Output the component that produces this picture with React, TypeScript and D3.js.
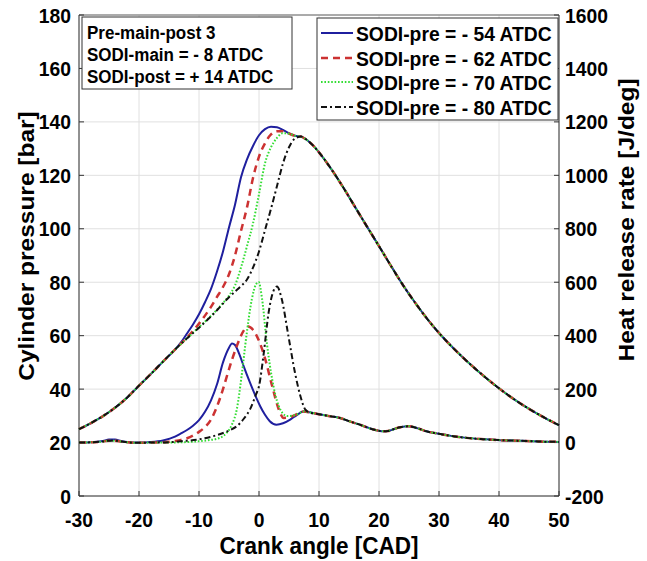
import React from "react";
import * as d3 from "d3";

// ---------- data ----------
const xTicks = [-30, -20, -10, 0, 10, 20, 30, 40, 50];
const leftTicks = [0, 20, 40, 60, 80, 100, 120, 140, 160, 180];
const rightTicks = [-200, 0, 200, 400, 600, 800, 1000, 1200, 1400, 1600];

const seriesNames = [
  "SODI-pre = - 54 ATDC",
  "SODI-pre = - 62 ATDC",
  "SODI-pre = - 70 ATDC",
  "SODI-pre = - 80 ATDC",
];
const annotationLines = [
  "Pre-main-post 3",
  "SODI-main = - 8 ATDC",
  "SODI-post = + 14 ATDC",
];

// shared motored compression pressure (bar)
const motorCad = [-30, -28, -26, -24, -22, -20, -18, -16, -14];
const motorP = [25, 27.3, 29.9, 33, 36.8, 41.3, 45.7, 50.3, 54.8];

// shared expansion pressure (bar)
const expCad = [7, 8, 9, 10, 12, 14, 16, 18, 20, 22, 24, 26, 28, 30, 32, 34, 36, 38, 40, 42, 44, 46, 48, 50];
const expP = [134.5, 133.2, 131.2, 128.6, 122.5, 115.6, 108.2, 100.8, 93.5, 86.1, 78.9, 72.4, 66.4, 61, 56.2, 51.8, 47.7, 43.9, 40.3, 37, 34, 31.3, 28.8, 26.5];

// combustion-phase pressure per series
const p54Cad = [-13, -12, -11, -10, -9, -8, -7, -6, -5, -4, -3, -2, -1, 0, 1, 2, 3, 4, 5, 6];
const p54 = [57.5, 60.8, 64.2, 68, 72.5, 77.5, 84, 91.5, 100.5, 109, 119.3, 126, 131, 135, 137.3, 138.2, 138, 137, 135.8, 134.8];
const p62Cad = [-12, -11, -10, -9, -8, -7, -6, -5, -4, -3, -2, -1, 0, 1, 2, 3, 4, 5, 6];
const p62 = [59.3, 61.8, 64.5, 67.5, 70.8, 74.5, 78.2, 83, 90, 99.2, 108, 119, 127, 132, 135.3, 136.5, 136.5, 135.6, 134.8];
const p70Cad = [-12, -10, -8, -7, -6, -5, -4, -3, -2, -1, 0, 1, 2, 3, 4, 5, 6];
const p70 = [59, 63.2, 67.4, 69.7, 72.2, 75, 78.8, 85.5, 93.5, 102, 113, 124.5, 130.5, 134, 135.8, 135.6, 134.8];
const p80Cad = [-12, -10, -8, -7, -6, -5, -4, -3, -2, -1, 0, 1, 2, 3, 4, 5, 6];
const p80 = [59, 63, 67.2, 69.5, 72, 74.4, 76.5, 78.6, 81, 85.5, 91.5, 99.5, 107.5, 116, 124.5, 130.5, 133.8];

// early heat release (J/deg)
const earlyCad = [-30, -28, -26, -25, -24, -23, -22, -20, -18];
const early54 = [0, 1, 6, 11, 11, 6, 2, 0, 2];
const earlyOther = [0, 1, 4, 7, 7, 4, 1, -1, 0];

// combustion heat release per series (J/deg)
const h54Cad = [-16, -14, -13, -12, -11, -10, -9, -8, -7, -6, -5, -4.5, -4, -3.2, -2.5, -1.5, -0.5, 0.2, 1, 1.8, 2.9, 4, 5.2, 6.3, 7.4];
const h54 = [8, 22, 34, 47, 63, 84, 115, 158, 218, 300, 355, 371, 365, 326, 282, 224, 170, 136, 104, 80, 67, 72, 86, 103, 116];
const h62Cad = [-16, -14, -13, -12, -11, -10, -9, -8, -7, -6, -5.4, -4.5, -3.7, -3, -2.6, -1.8, -1, -0.1, 1, 2.2, 3.3, 4.1, 5, 6.5, 7.4];
const h62 = [1, 6, 10, 16, 26, 40, 58, 86, 135, 200, 245, 310, 361, 400, 417, 434, 422, 386, 315, 211, 124, 92, 94, 108, 116];
const h70Cad = [-16, -12, -10, -8, -7, -6, -5.4, -4.5, -3.7, -2.9, -2.1, -1.2, -0.5, -0.05, 0.5, 1.3, 2.2, 3.3, 4.7, 6.3, 7.4];
const h70 = [0, 2, 5, 10, 14, 24, 36, 68, 124, 249, 399, 536, 592, 601, 540, 374, 236, 136, 99, 105, 116];
const h80Cad = [-16, -13, -10, -7.6, -5, -3.7, -2.5, -1.5, -0.5, 0, 0.8, 1.6, 2.4, 3, 3.8, 4.9, 6, 6.9, 7.7, 8.5];
const h80 = [0, 5, 12, 24, 45, 61, 90, 124, 180, 211, 336, 486, 567, 584, 536, 399, 261, 174, 124, 112];

// shared late heat release tail (J/deg)
const tailCad = [8.5, 10, 12, 13.5, 15, 16.8, 18.5, 20, 20.7, 21.5, 22.3, 23.5, 25, 26.5, 27.9, 30.2, 32, 34.6, 37, 40.2, 43, 45.7, 48, 50];
const tailH = [113, 106, 98, 92, 80, 67, 53, 44, 42, 43, 49, 57, 61, 53, 42, 32, 25, 17.5, 13, 9, 7, 5, 3, 2.5];

// ---------- layout ----------
const W = 647;
const H = 561;
const X0 = 79, X1 = 559, Y0 = 496, Y1 = 15;
const FONT = "'Liberation Sans', Arial, sans-serif";
const SX = 0.92;

type Pt = [number, number];
const zip = (a: number[], b: number[]): Pt[] => a.map((v, i) => [v, b[i]] as Pt);

const styles = [
  { color: "#1f1f9e", width: 2, dash: "" },
  { color: "#cc3232", width: 2.5, dash: "7,5" },
  { color: "#33dd33", width: 2, dash: "1.6,1.8" },
  { color: "#111111", width: 2, dash: "6,3,2,3" },
];

function T(props: {
  x: number; y: number; size: number; anchor?: string; rotate?: boolean; children: React.ReactNode;
}) {
  const { x, y, size, anchor = "start", rotate = false, children } = props;
  const tr = rotate
    ? `translate(${x},${y}) rotate(-90) scale(1,${SX})`
    : `translate(${x},${y}) scale(${SX},1)`;
  return (
    <text transform={tr} fontSize={size} fontWeight="bold" fontFamily={FONT} textAnchor={anchor} fill="#000">
      {children}
    </text>
  );
}

export default function App() {
  const x = d3.scaleLinear().domain([-30, 50]).range([X0, X1]);
  const yL = d3.scaleLinear().domain([0, 180]).range([Y0, Y1]);
  const yR = d3.scaleLinear().domain([-200, 1600]).range([Y0, Y1]);

  const pressure: Pt[][] = [
    [...zip(motorCad, motorP), ...zip(p54Cad, p54), ...zip(expCad, expP)],
    [...zip(motorCad, motorP), ...zip(p62Cad, p62), ...zip(expCad, expP)],
    [...zip(motorCad, motorP), ...zip(p70Cad, p70), ...zip(expCad, expP)],
    [...zip(motorCad, motorP), ...zip(p80Cad, p80), ...zip(expCad, expP)],
  ];
  const hrr: Pt[][] = [
    [...zip(earlyCad, early54), ...zip(h54Cad, h54), ...zip(tailCad, tailH)],
    [...zip(earlyCad, earlyOther), ...zip(h62Cad, h62), ...zip(tailCad, tailH)],
    [...zip(earlyCad, earlyOther), ...zip(h70Cad, h70), ...zip(tailCad, tailH)],
    [...zip(earlyCad, earlyOther), ...zip(h80Cad, h80), ...zip(tailCad.slice(1), tailH.slice(1))],
  ];

  const lineL = d3.line<Pt>().x((d) => x(d[0])).y((d) => yL(d[1])).curve(d3.curveMonotoneX);
  const lineR = d3.line<Pt>().x((d) => x(d[0])).y((d) => yR(d[1])).curve(d3.curveMonotoneX);

  const legX = 317, legY = 18, legW = 241, legH = 102;
  const rowY = [33, 58, 82, 107];

  return (
    <svg width={W} height={H} style={{ position: "absolute", left: 0, top: 0, background: "#fff" }}>
      <rect x={0} y={0} width={W} height={H} fill="#fff" />
      {/* grid */}
      {xTicks.map((t) => (
        <line key={"gx" + t} x1={x(t)} x2={x(t)} y1={Y0} y2={Y1} stroke="#e0e0e0" strokeWidth={1} />
      ))}
      {leftTicks.map((t) => (
        <line key={"gy" + t} x1={X0} x2={X1} y1={yL(t)} y2={yL(t)} stroke="#e0e0e0" strokeWidth={1} />
      ))}
      {/* axes */}
      <line x1={X0} x2={X1} y1={Y1} y2={Y1} stroke="#666" strokeWidth={1} />
      <line x1={X0} x2={X1} y1={Y0} y2={Y0} stroke="#333" strokeWidth={1} />
      <line x1={X0} x2={X0} y1={Y0} y2={Y1} stroke="#333" strokeWidth={1} />
      <line x1={X1} x2={X1} y1={Y0} y2={Y1} stroke="#333" strokeWidth={1} />
      {xTicks.map((t) => (
        <line key={"tx" + t} x1={x(t)} x2={x(t)} y1={Y0} y2={Y0 - 5} stroke="#333" />
      ))}
      {leftTicks.map((t) => (
        <line key={"tl" + t} x1={X0} x2={X0 + 5} y1={yL(t)} y2={yL(t)} stroke="#333" />
      ))}
      {rightTicks.map((t) => (
        <line key={"tr" + t} x1={X1} x2={X1 - 5} y1={yR(t)} y2={yR(t)} stroke="#333" />
      ))}

      {/* curves */}
      {pressure.map((pts, i) => (
        <path key={"p" + i} d={lineL(pts) || ""} fill="none" stroke={styles[i].color}
          strokeWidth={styles[i].width} strokeDasharray={styles[i].dash} />
      ))}
      {hrr.map((pts, i) => (
        <path key={"h" + i} d={lineR(pts) || ""} fill="none" stroke={styles[i].color}
          strokeWidth={styles[i].width} strokeDasharray={styles[i].dash} />
      ))}

      {/* tick labels */}
      {xTicks.map((t) => (
        <T key={"lx" + t} x={x(t)} y={527} size={21} anchor="middle">{t}</T>
      ))}
      {leftTicks.map((t) => (
        <T key={"ll" + t} x={71} y={yL(t) + 7.5} size={21} anchor="end">{t}</T>
      ))}
      {rightTicks.map((t) => (
        <T key={"lr" + t} x={565} y={yR(t) + 7.5} size={21} anchor="start">{t}</T>
      ))}

      {/* axis titles */}
      <T x={(X0 + X1) / 2} y={554} size={24.5} anchor="middle">Crank angle [CAD]</T>
      <T x={33.5} y={246} size={24.5} anchor="middle" rotate>Cylinder pressure [bar]</T>
      <T x={634} y={220} size={24.5} anchor="middle" rotate>Heat release rate [J/deg]</T>

      {/* annotation box */}
      <rect x={82} y={17} width={210} height={72} fill="#fff" stroke="#333" strokeWidth={1} />
      {annotationLines.map((s, i) => (
        <T key={"a" + i} x={87} y={39 + i * 22} size={18.5}>{s}</T>
      ))}

      {/* legend */}
      <rect x={legX} y={legY} width={legW} height={legH} fill="#fff" stroke="#333" strokeWidth={1} />
      {seriesNames.map((s, i) => (
        <g key={"lg" + i}>
          <line x1={321} x2={353} y1={rowY[i]} y2={rowY[i]} stroke={styles[i].color}
            strokeWidth={styles[i].width} strokeDasharray={styles[i].dash} />
          <T x={356} y={rowY[i] + 7.5} size={21}>{s}</T>
        </g>
      ))}
    </svg>
  );
}
